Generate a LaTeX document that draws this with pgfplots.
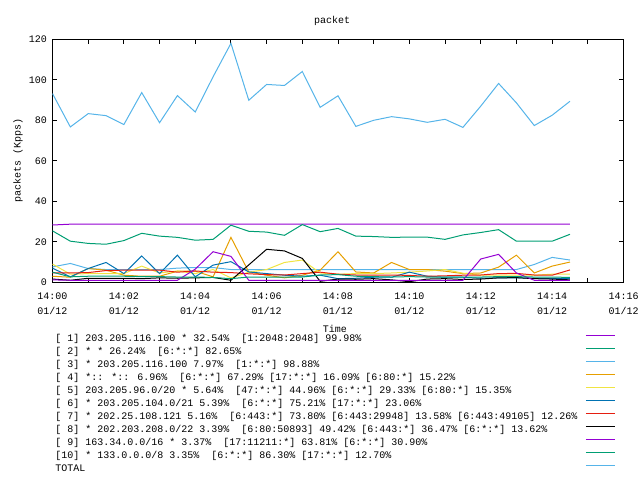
\documentclass[border=0pt]{standalone}
\usepackage{pgfplots}
\pgfplotsset{compat=1.18}
\usepackage{pgfplotstable}
\usepackage{fontspec}
\setmainfont{Liberation Mono}
\definecolor{c1}{RGB}{148,0,211}
\definecolor{c2}{RGB}{0,158,115}
\definecolor{c3}{RGB}{86,180,233}
\definecolor{c4}{RGB}{230,159,0}
\definecolor{c5}{RGB}{240,228,66}
\definecolor{c6}{RGB}{0,114,178}
\definecolor{c7}{RGB}{229,30,16}
\definecolor{c8}{RGB}{0,0,0}
\newcommand\LE[1]{\makebox[530bp][l]{#1}}
\pgfplotstableread{
t s1 s2 s3 s4 s5 s6 s7 s8 s9 s10 tot
0.0 28.3 25.4 7.6 3.0 9.0 7.0 4.7 1.6 1.2 5.0 93.2
0.5 28.7 20.3 9.3 2.5 4.0 2.7 4.6 1.0 1.0 2.7 76.7
1.0 28.7 19.2 6.8 6.8 4.3 6.8 4.8 2.0 1.0 3.0 83.3
1.5 28.7 18.8 6.3 6.0 4.3 9.8 5.8 2.0 1.0 3.0 82.3
2.0 28.7 20.6 6.3 3.5 4.3 4.3 6.0 2.0 0.9 3.0 77.9
2.5 28.7 24.2 6.3 3.0 8.0 13.0 6.0 1.8 0.9 2.8 93.7
3.0 28.7 22.8 6.3 3.0 4.6 4.3 6.0 2.2 0.9 2.8 78.8
3.5 28.7 22.2 7.0 5.5 5.6 13.4 5.0 2.0 1.0 2.6 92.2
4.0 28.7 20.8 7.3 5.5 4.3 2.7 5.6 2.2 6.5 2.6 84.1
4.5 28.7 21.2 7.3 2.7 6.3 8.5 5.0 2.4 15.1 2.4 101.5
5.0 28.7 28.2 6.3 22.2 2.2 10.2 4.8 1.0 12.8 1.8 118.0
5.5 28.7 25.2 6.3 5.1 5.0 5.1 4.2 8.6 1.0 2.6 89.9
6.0 28.7 24.8 6.3 3.5 6.3 4.3 3.8 16.3 0.9 2.6 97.7
6.5 28.7 23.2 6.3 2.2 9.8 3.5 3.6 15.5 0.9 2.6 97.2
7.0 28.7 28.5 6.3 3.5 11.0 3.0 4.3 11.8 0.9 2.6 104.1
7.5 28.7 25.0 6.3 6.0 4.6 3.5 5.0 0.5 0.9 3.6 86.4
8.0 28.7 26.6 6.3 15.1 4.0 1.8 4.0 1.6 0.9 3.8 92.1
8.5 28.7 22.8 6.3 5.1 4.3 2.0 3.6 1.5 0.9 3.0 77.0
9.0 28.7 22.6 6.3 4.6 4.3 2.5 3.6 1.8 0.9 2.8 80.0
9.5 28.7 22.2 6.3 9.8 4.6 2.5 3.6 1.2 0.9 2.6 81.8
10.0 28.7 22.3 6.3 6.3 5.0 5.0 3.4 0.3 0.9 2.8 80.7
10.5 28.7 22.3 6.3 6.3 5.6 3.0 3.0 1.6 0.9 2.6 79.0
11.0 28.7 21.2 6.3 5.5 6.3 2.5 3.2 1.8 0.9 2.6 80.5
11.5 28.7 23.4 6.3 4.3 4.5 2.5 3.5 1.4 1.0 2.6 76.5
12.0 28.7 24.6 6.3 4.6 3.5 2.0 3.6 1.6 11.5 2.6 87.0
12.5 28.7 26.0 6.3 7.5 3.5 2.2 4.3 2.2 13.8 2.8 98.2
13.0 28.7 20.3 6.3 13.4 3.5 2.2 4.4 2.3 4.6 2.8 88.6
13.5 28.7 20.3 8.8 4.6 3.5 2.0 3.6 1.8 1.0 2.6 77.4
14.0 28.7 20.3 12.3 8.0 4.0 2.0 3.5 1.6 0.9 2.6 82.5
14.5 28.7 23.7 11.0 10.0 4.0 1.8 6.1 1.2 0.9 2.4 89.4
}\data
\begin{document}
\begin{tikzpicture}
\useasboundingbox (-52.5bp,-197.7bp) rectangle (587.5bp,282.3bp);
\begin{axis}[
  at={(0,0)}, anchor=south west,
  scale only axis, width=571bp, height=243bp,
  xmin=0, xmax=16, ymin=0, ymax=120,
  xtick={0,1,...,16},
  xticklabels={{14:00\\01/12},{},{14:02\\01/12},{},{14:04\\01/12},{},{14:06\\01/12},{},{14:08\\01/12},{},{14:10\\01/12},{},{14:12\\01/12},{},{14:14\\01/12},{},{14:16\\01/12}},
  ytick={0,20,...,120},
  /pgf/number format/assume math mode=true,
  tick align=inside, major tick length=4.5bp,
  axis line style={line width=1bp},
  every tick/.style={black, line width=1bp},
  ticklabel style={font=\fontsize{10bp}{15bp}\selectfont},
  xticklabel style={align=center, anchor=north, yshift=-7bp},
  yticklabel style={anchor=east, xshift=-2bp},
  title={packet},
  title style={at={(0.4895,1)}, anchor=center, yshift=12.3bp, font=\fontsize{10bp}{12bp}\selectfont},
  xlabel={Time},
  xlabel style={at={(0.4947,0)}, anchor=center, yshift=-46.5bp, font=\fontsize{10bp}{12bp}\selectfont},
  ylabel={packets (Kpps)},
  ylabel style={at={(axis description cs:-0.0604,0.503)}, anchor=center, font=\fontsize{10bp}{12bp}\selectfont},
  legend plot pos=right,
  legend cell align=left,
  legend image code/.code={\draw[#1] (0bp,3.3bp) -- (29bp,3.3bp);},
  legend style={at={(0.005,-0.2066)}, anchor=north west, draw=none, fill=none,
    inner sep=0pt, outer sep=0pt, row sep=0pt, column sep=0pt,
    font=\fontsize{10bp}{13bp}\selectfont,
    nodes={inner sep=0pt, text height=8.5bp, text depth=4.5bp}},
  every axis plot/.append style={line width=1bp, mark=none},
]
\addplot[c1] table[x=t,y=s1]{\data};
\addlegendentry{\LE{[ 1] 203.205.116.100 * 32.54\%~ [1:2048:2048] 99.98\%}}
\addplot[c2] table[x=t,y=s2]{\data};
\addlegendentry{\LE{[ 2] * * 26.24\%~ [6:*:*] 82.65\%}}
\addplot[c3] table[x=t,y=s3]{\data};
\addlegendentry{\LE{[ 3] * 203.205.116.100 7.97\%~ [1:*:*] 98.88\%}}
\addplot[c4] table[x=t,y=s4]{\data};
\addlegendentry{\LE{[ 4] *:: *:: 6.96\%~ [6:*:*] 67.29\% [17:*:*] 16.09\% [6:80:*] 15.22\%}}
\addplot[c5] table[x=t,y=s5]{\data};
\addlegendentry{\LE{[ 5] 203.205.96.0/20 * 5.64\%~ [47:*:*] 44.96\% [6:*:*] 29.33\% [6:80:*] 15.35\%}}
\addplot[c6] table[x=t,y=s6]{\data};
\addlegendentry{\LE{[ 6] * 203.205.104.0/21 5.39\%~ [6:*:*] 75.21\% [17:*:*] 23.06\%}}
\addplot[c7] table[x=t,y=s7]{\data};
\addlegendentry{\LE{[ 7] * 202.25.108.121 5.16\%~ [6:443:*] 73.80\% [6:443:29948] 13.58\% [6:443:49105] 12.26\%}}
\addplot[c8] table[x=t,y=s8]{\data};
\addlegendentry{\LE{[ 8] * 202.203.208.0/22 3.39\%~ [6:80:50893] 49.42\% [6:443:*] 36.47\% [6:*:*] 13.62\%}}
\addplot[c1] table[x=t,y=s9]{\data};
\addlegendentry{\LE{[ 9] 163.34.0.0/16 * 3.37\%~ [17:11211:*] 63.81\% [6:*:*] 30.90\%}}
\addplot[c2] table[x=t,y=s10]{\data};
\addlegendentry{\LE{[10] * 133.0.0.0/8 3.35\%~ [6:*:*] 86.30\% [17:*:*] 12.70\%}}
\addplot[c3] table[x=t,y=tot]{\data};
\addlegendentry{\LE{TOTAL}}
\end{axis}
\end{tikzpicture}
\end{document}
